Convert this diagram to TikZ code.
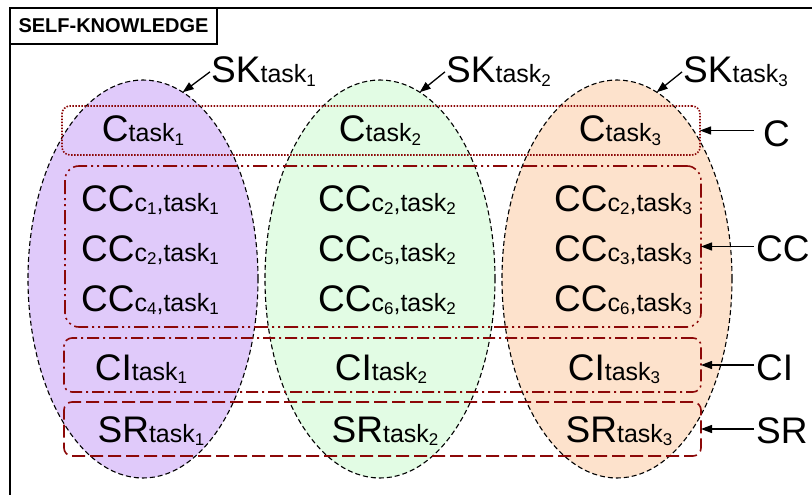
\documentclass[tikz,border=0pt]{standalone}
\usepackage{fontspec}
\setmainfont{Liberation Sans}
\usetikzlibrary{arrows.meta,shapes.geometric}
\definecolor{purp}{RGB}{224,202,250}
\definecolor{grn}{RGB}{226,252,228}
\definecolor{org}{RGB}{253,226,204}
\definecolor{dred}{RGB}{140,8,8}
\newcommand{\dig}[1]{\raisebox{-3.5pt}{\fontsize{17}{17}\selectfont #1}}
\newcommand{\lbl}[2]{{\fontsize{37}{37}\selectfont #1}{\fontsize{25}{25}\selectfont #2}}
\tikzset{
 setell/.style={ellipse, draw=black, line width=1.1pt, dash pattern=on 5pt off 3pt, minimum width=230pt, minimum height=398pt, inner sep=0pt, outer sep=0pt},
 grp/.style={draw=dred, line width=1.6pt, rounded corners=8pt, minimum width=637pt, inner sep=0pt, outer sep=0pt},
 txt/.style={anchor=base, inner sep=0pt},
 side/.style={anchor=west, inner ysep=0pt, inner xsep=2pt, font=\fontsize{37}{37}\selectfont},
 arr/.style={line width=1.3pt, -{Triangle[length=11pt,width=8pt]}},
}
\begin{document}
\begin{tikzpicture}[x=1pt,y=-1pt]
\path[use as bounding box] (0,0) rectangle (812,495);
\clip (0,0) rectangle (812,495);
\fill[white] (0,0) rectangle (812,495);
\draw[line width=2.8pt] (10,540) -- (10,8) -- (850,8);
\node[draw, line width=2pt, minimum width=207pt, minimum height=36pt, inner sep=0pt, font=\fontsize{20}{20}\selectfont\bfseries] (title) at (113.5,26) {SELF-KNOWLEDGE};
% sets
\node[setell, fill=purp] (E1) at (143,279) {};
\node[setell, fill=grn] (E2) at (380,279) {};
\node[setell, fill=org] (E3) at (617,279) {};
% groups
\node[grp, dash pattern=on 1.5pt off 1.5pt, minimum width=638pt, minimum height=49pt] (Cb) at (381,130.5) {};
\node[grp, rounded corners=14pt, dash pattern=on 14pt off 4pt on 2pt off 4pt on 2pt off 4pt, minimum width=636pt, minimum height=161pt] (CCb) at (383,246.5) {};
\node[grp, dash pattern=on 12pt off 4pt on 2pt off 4pt, minimum height=54pt] (CIb) at (382.5,365) {};
\node[grp, dash pattern=on 13pt off 5pt, minimum height=54pt] (SRb) at (382.5,429) {};
% texts
\node[txt] (c1) at (143,142) {\lbl{C}{task\dig{1}}};
\node[txt] (c2) at (380,142) {\lbl{C}{task\dig{2}}};
\node[txt] (c3) at (620,142) {\lbl{C}{task\dig{3}}};
\node[txt] (cc11) at (150,211) {\lbl{CC}{c\dig{1},task\dig{1}}};
\node[txt] (cc12) at (150,261) {\lbl{CC}{c\dig{2},task\dig{1}}};
\node[txt] (cc13) at (150,311) {\lbl{CC}{c\dig{4},task\dig{1}}};
\node[txt] (cc21) at (387,211) {\lbl{CC}{c\dig{2},task\dig{2}}};
\node[txt] (cc22) at (387,261) {\lbl{CC}{c\dig{5},task\dig{2}}};
\node[txt] (cc23) at (387,311) {\lbl{CC}{c\dig{6},task\dig{2}}};
\node[txt] (cc31) at (623,211) {\lbl{CC}{c\dig{2},task\dig{3}}};
\node[txt] (cc32) at (623,261) {\lbl{CC}{c\dig{3},task\dig{3}}};
\node[txt] (cc33) at (623,311) {\lbl{CC}{c\dig{6},task\dig{3}}};
\node[txt] (ci1) at (141,380) {\lbl{CI}{task\dig{1}}};
\node[txt] (ci2) at (381,380) {\lbl{CI}{task\dig{2}}};
\node[txt] (ci3) at (614,380) {\lbl{CI}{task\dig{3}}};
\node[txt] (sr1) at (151,442) {\lbl{SR}{task\dig{1}}};
\node[txt] (sr2) at (385,442) {\lbl{SR}{task\dig{2}}};
\node[txt] (sr3) at (619,442) {\lbl{SR}{task\dig{3}}};
% set labels
\node[anchor=base west, inner sep=0pt] (SK1) at (211,83) {\lbl{SK}{task\dig{1}}};
\node[anchor=base west, inner sep=0pt] (SK2) at (446,83) {\lbl{SK}{task\dig{2}}};
\node[anchor=base west, inner sep=0pt] (SK3) at (683,83) {\lbl{SK}{task\dig{3}}};
\draw[arr] ([xshift=-1pt]SK1.west) -- (E1.78);
\draw[arr] ([xshift=-1pt]SK2.west) -- (E2.78);
\draw[arr] ([xshift=-1pt]SK3.west) -- (E3.78);
% group labels
\node[side, inner xsep=9pt] (lC) at (754,134) {C};
\node[side] (lCC) at (754,249) {CC};
\node[side] (lCI) at (754,368) {CI};
\node[side] (lSR) at (754,431) {SR};
\draw[arr] (lC.west |- Cb.east) -- (Cb.east);
\draw[arr] (lCC.west |- CCb.east) -- (CCb.east);
\draw[arr] (lCI.west |- CIb.east) -- (CIb.east);
\draw[arr] (lSR.west |- SRb.east) -- (SRb.east);
\end{tikzpicture}
\end{document}
